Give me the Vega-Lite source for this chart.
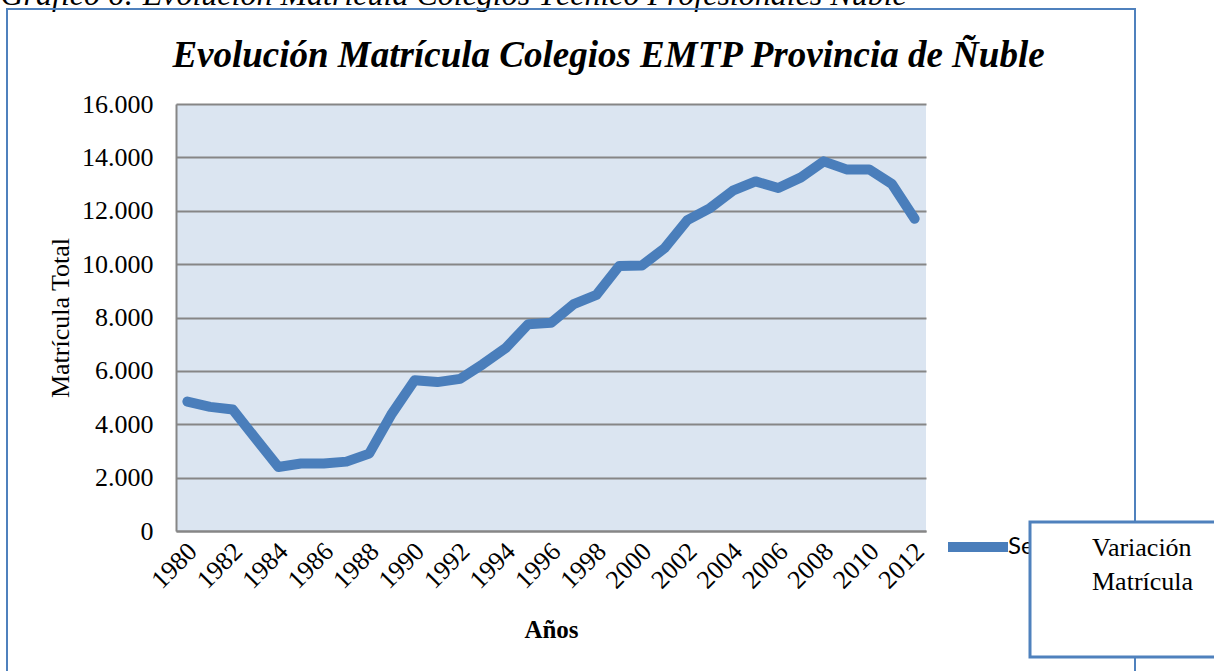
{
  "$schema": "https://vega.github.io/schema/vega-lite/v6.json",
  "width": 750,
  "height": 427,
  "autosize": {"type": "none"},
  "padding": {"left": 176, "top": 104, "right": 288, "bottom": 140},
  "background": "white",
  "data": {
    "values": [
      {"year": 1980, "matricula": 4850},
      {"year": 1981, "matricula": 4650},
      {"year": 1982, "matricula": 4550},
      {"year": 1983, "matricula": 3470},
      {"year": 1984, "matricula": 2400},
      {"year": 1985, "matricula": 2530},
      {"year": 1986, "matricula": 2530},
      {"year": 1987, "matricula": 2600},
      {"year": 1988, "matricula": 2900},
      {"year": 1989, "matricula": 4400},
      {"year": 1990, "matricula": 5650},
      {"year": 1991, "matricula": 5580},
      {"year": 1992, "matricula": 5700},
      {"year": 1993, "matricula": 6250},
      {"year": 1994, "matricula": 6850},
      {"year": 1995, "matricula": 7750},
      {"year": 1996, "matricula": 7800},
      {"year": 1997, "matricula": 8500},
      {"year": 1998, "matricula": 8850},
      {"year": 1999, "matricula": 9930},
      {"year": 2000, "matricula": 9950},
      {"year": 2001, "matricula": 10600},
      {"year": 2002, "matricula": 11650},
      {"year": 2003, "matricula": 12100},
      {"year": 2004, "matricula": 12750},
      {"year": 2005, "matricula": 13100},
      {"year": 2006, "matricula": 12850},
      {"year": 2007, "matricula": 13250},
      {"year": 2008, "matricula": 13850},
      {"year": 2009, "matricula": 13550},
      {"year": 2010, "matricula": 13550},
      {"year": 2011, "matricula": 13000},
      {"year": 2012, "matricula": 11700}
    ]
  },
  "layer": [
    {
      "mark": {"type": "line", "strokeWidth": 10, "strokeCap": "round", "strokeJoin": "round"},
      "encoding": {
        "x": {
          "field": "year",
          "type": "quantitative",
          "scale": {"domain": [1979.5, 2012.5], "nice": false, "zero": false},
          "axis": {
            "orient": "bottom",
            "values": [1980, 1982, 1984, 1986, 1988, 1990, 1992, 1994, 1996, 1998, 2000, 2002, 2004, 2006, 2008, 2010, 2012],
            "format": "d",
            "labelAngle": -45,
            "labelAlign": "right",
            "labelBaseline": "middle",
            "labelFont": "Liberation Serif",
            "labelFontSize": 26,
            "labelColor": "black",
            "labelPadding": 16,
            "labelOffset": 5,
            "labelFlush": false,
            "labelOverlap": false,
            "labelBound": false,
            "ticks": false,
            "tickSize": 0,
            "grid": false,
            "domainColor": "#868686",
            "domainWidth": 2,
            "title": "Años",
            "titleFont": "Liberation Serif",
            "titleFontSize": 25,
            "titleFontWeight": "bold",
            "titleColor": "black",
            "titlePadding": 25
          }
        },
        "y": {
          "field": "matricula",
          "type": "quantitative",
          "scale": {"domain": [0, 16000], "nice": false},
          "axis": {
            "orient": "left",
            "values": [0, 2000, 4000, 6000, 8000, 10000, 12000, 14000, 16000],
            "labelExpr": "replace(format(datum.value, ','), ',', '.')",
            "labelFont": "Liberation Serif",
            "labelFontSize": 26,
            "labelColor": "black",
            "labelPadding": 23,
            "ticks": false,
            "tickSize": 0,
            "grid": true,
            "gridColor": "#868686",
            "gridWidth": 2,
            "domainColor": "#868686",
            "domainWidth": 2,
            "title": "Matrícula Total",
            "titleFont": "Liberation Serif",
            "titleFontSize": 26,
            "titleFontWeight": "normal",
            "titleColor": "black",
            "titlePadding": 8
          }
        },
        "color": {
          "datum": "Series",
          "scale": {"range": ["#4A7EBB"]},
          "legend": {
            "orient": "none",
            "legendX": 767,
            "legendY": 408,
            "title": null,
            "padding": 0,
            "symbolType": "stroke",
            "symbolSize": 3600,
            "symbolStrokeWidth": 10,
            "labelFont": "Lato",
            "labelFontSize": 24,
            "labelColor": "black",
            "labelOffset": -5
          }
        }
      }
    },
    {
      "mark": {"type": "point", "opacity": 0},
      "encoding": {
        "x": {
          "field": "year",
          "type": "quantitative",
          "axis": {
            "orient": "top",
            "domain": false,
            "ticks": false,
            "labels": false,
            "grid": false,
            "title": "Evolución Matrícula Colegios EMTP Provincia de Ñuble",
            "titleFont": "Liberation Serif",
            "titleFontSize": 37,
            "titleFontStyle": "italic",
            "titleFontWeight": "bold",
            "titleColor": "black",
            "titleX": 432,
            "titleY": -38,
            "titleAlign": "center",
            "titleBaseline": "alphabetic"
          }
        },
        "y": {
          "field": "matricula",
          "type": "quantitative",
          "axis": {
            "orient": "right",
            "domain": false,
            "ticks": false,
            "labels": false,
            "grid": false,
            "title": "Gráfico 6: Evolución Matrícula Colegios Técnico Profesionales Ñuble",
            "titleFont": "Liberation Serif",
            "titleFontSize": 32,
            "titleFontStyle": "italic",
            "titleFontWeight": "normal",
            "titleColor": "black",
            "titleAngle": 0,
            "titleX": -926,
            "titleY": -100,
            "titleAlign": "left",
            "titleBaseline": "alphabetic",
            "titleLimit": 1200
          }
        },
        "fill": {
          "field": "matricula",
          "type": "quantitative",
          "legend": {
            "type": "gradient",
            "orient": "none",
            "legendX": -169,
            "legendY": -95,
            "direction": "horizontal",
            "gradientLength": 1128,
            "gradientThickness": 700,
            "gradientOpacity": 0,
            "gradientStrokeWidth": 0,
            "labelExpr": "''",
            "title": null,
            "padding": 0,
            "strokeColor": "#4F81BD",
            "encode": {"legend": {"update": {"strokeWidth": {"value": 2}}}}
          }
        },
        "stroke": {
          "field": "year",
          "type": "quantitative",
          "legend": {
            "type": "gradient",
            "orient": "none",
            "legendX": 854,
            "legendY": 418,
            "direction": "vertical",
            "gradientLength": 91,
            "gradientThickness": 1,
            "gradientOpacity": 0,
            "gradientStrokeWidth": 0,
            "labelExpr": "''",
            "labelOffset": 0,
            "title": ["Variación", "Matrícula"],
            "titleOrient": "right",
            "titlePadding": 39,
            "titleFont": "Liberation Serif",
            "titleFontSize": 26,
            "titleFontWeight": "normal",
            "titleLineHeight": 34,
            "titleColor": "black",
            "titleBaseline": "top",
            "titleAlign": "left",
            "titleAnchor": "start",
            "padding": 22,
            "fillColor": "white",
            "strokeColor": "#4F81BD",
            "encode": {
              "legend": {"update": {"strokeWidth": {"value": 3}}},
              "title": {"update": {"angle": {"value": 0}, "align": {"value": "left"}, "baseline": {"value": "top"}, "dy": {"value": -78}}}
            }
          }
        }
      }
    }
  ],
  "resolve": {"axis": {"x": "independent", "y": "independent"}},
  "config": {"view": {"fill": "#DBE5F1", "stroke": null}}
}
